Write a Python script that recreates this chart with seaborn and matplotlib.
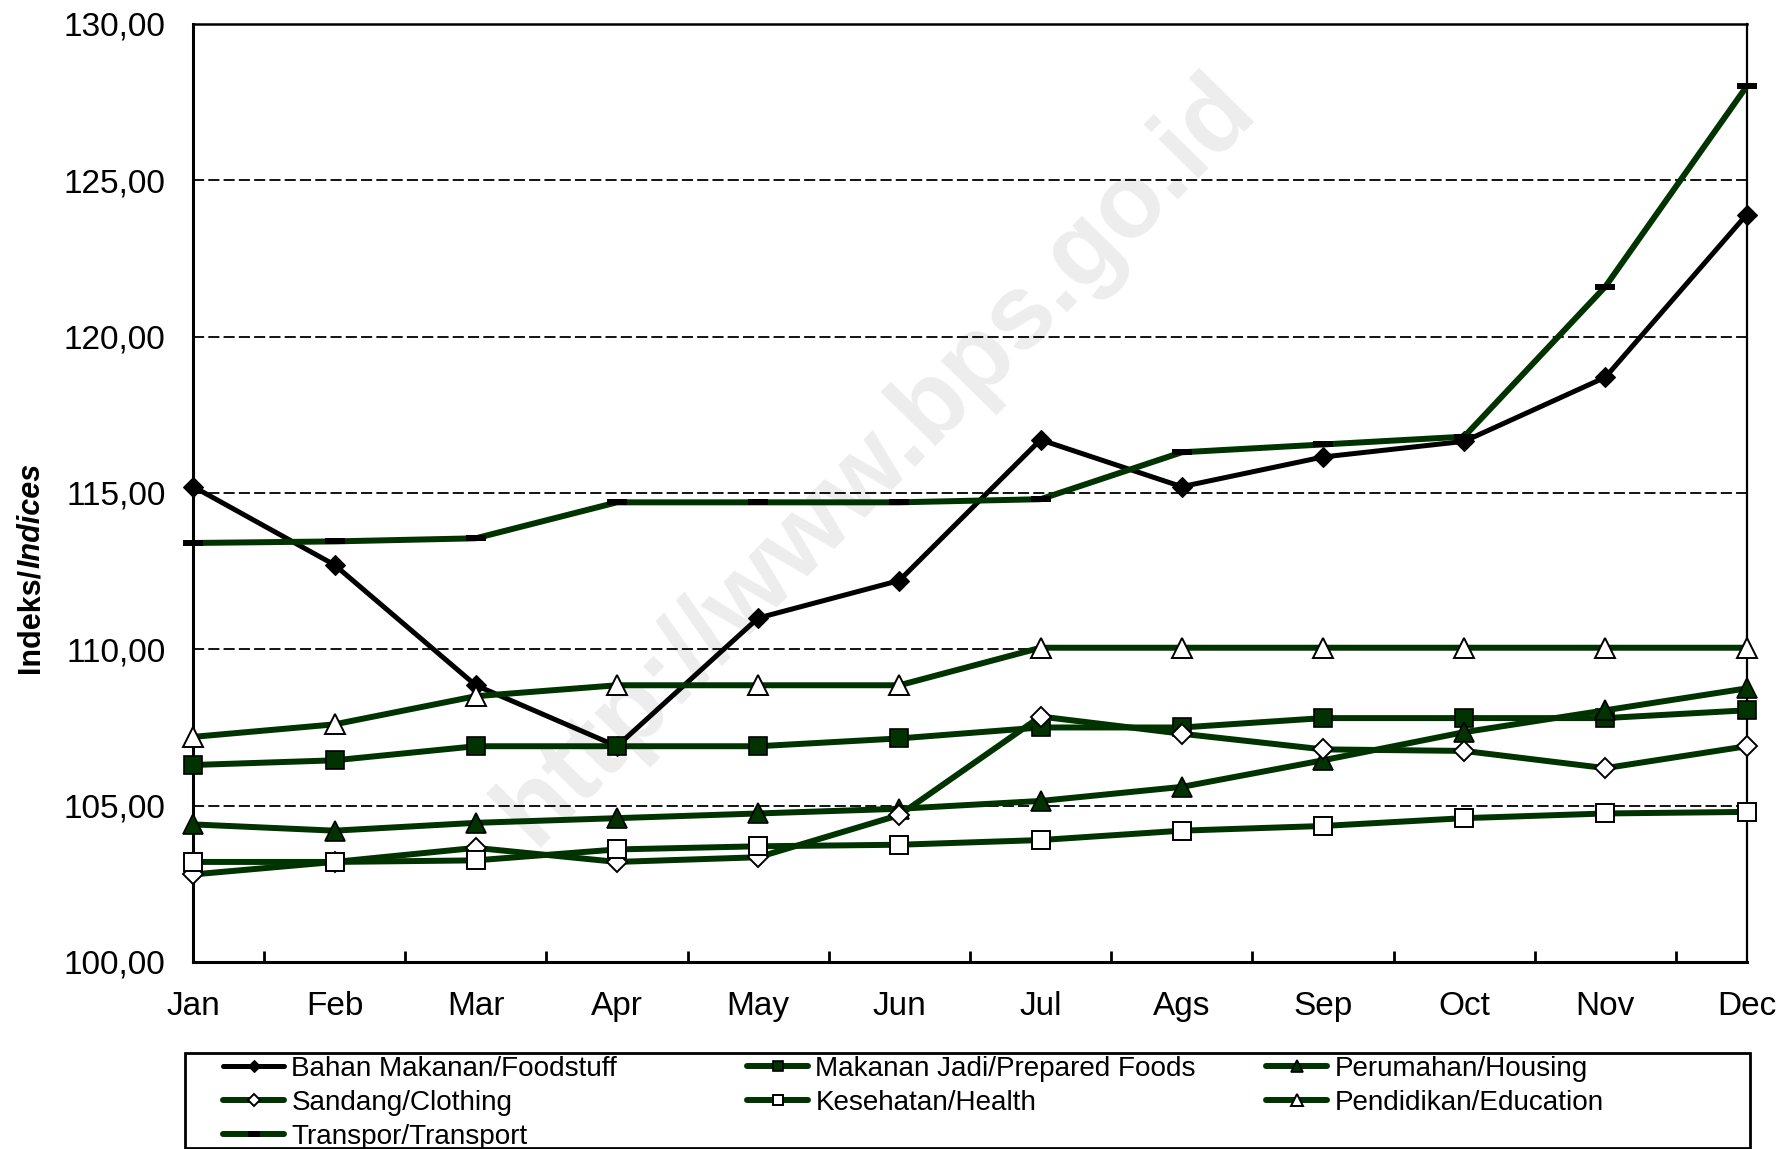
import numpy as np
import pandas as pd
import matplotlib
matplotlib.use("Agg")
import matplotlib.pyplot as plt
import seaborn as sns
from matplotlib.patches import Rectangle
from matplotlib.ticker import FixedLocator, NullFormatter

# ---------------- data ----------------
months = ["Jan", "Feb", "Mar", "Apr", "May", "Jun", "Jul", "Ags", "Sep", "Oct", "Nov", "Dec"]
foodstuff = [115.2, 112.7, 108.85, 106.9, 111.0, 112.2, 116.7, 115.2, 116.15, 116.65, 118.7, 123.9]
prepared = [106.3, 106.45, 106.9, 106.9, 106.9, 107.15, 107.5, 107.5, 107.8, 107.8, 107.8, 108.05]
housing = [104.4, 104.2, 104.45, 104.6, 104.75, 104.9, 105.15, 105.6, 106.45, 107.35, 108.05, 108.75]
clothing = [102.8, 103.2, 103.65, 103.2, 103.35, 104.7, 107.85, 107.3, 106.8, 106.75, 106.2, 106.9]
health = [103.2, 103.2, 103.25, 103.6, 103.7, 103.75, 103.9, 104.2, 104.35, 104.6, 104.75, 104.8]
education = [107.2, 107.6, 108.5, 108.85, 108.85, 108.85, 110.05, 110.05, 110.05, 110.05, 110.05, 110.05]
transport = [113.4, 113.45, 113.55, 114.7, 114.7, 114.7, 114.8, 116.3, 116.55, 116.8, 121.6, 128.0]

series_names = ["Bahan Makanan/Foodstuff", "Makanan Jadi/Prepared Foods", "Perumahan/Housing",
                "Sandang/Clothing", "Kesehatan/Health", "Pendidikan/Education", "Transpor/Transport"]
series_values = [foodstuff, prepared, housing, clothing, health, education, transport]

yticks = [100, 105, 110, 115, 120, 125, 130]
ytick_labels = ["100,00", "105,00", "110,00", "115,00", "120,00", "125,00", "130,00"]
ylabel_a = "Indeks/"
ylabel_b = "Indices"
watermark = "http://www.bps.go.id"

# ---------------- styles ----------------
GREEN = "#003300"
styles = [
    dict(color="black", linewidth=3.6, marker="D", markersize=10, markerfacecolor="black",
         markeredgecolor="black", markeredgewidth=0.8),
    dict(color=GREEN, linewidth=4.3, marker="s", markersize=13, markerfacecolor=GREEN,
         markeredgecolor="black", markeredgewidth=1.2),
    dict(color=GREEN, linewidth=4.3, marker="^", markersize=14, markerfacecolor=GREEN,
         markeredgecolor="black", markeredgewidth=1.2),
    dict(color=GREEN, linewidth=4.3, marker="D", markersize=10, markerfacecolor="white",
         markeredgecolor="black", markeredgewidth=1.4),
    dict(color=GREEN, linewidth=4.3, marker="s", markersize=13, markerfacecolor="white",
         markeredgecolor="black", markeredgewidth=1.4),
    dict(color=GREEN, linewidth=4.3, marker="^", markersize=14, markerfacecolor="white",
         markeredgecolor="black", markeredgewidth=1.4),
    dict(color=GREEN, linewidth=4.3, marker="_", markersize=14.5, markerfacecolor="black",
         markeredgecolor="black", markeredgewidth=4.3),
]

sns.set_theme(style="white")
plt.rcParams["font.family"] = ["Liberation Sans", "DejaVu Sans"]
plt.rcParams["lines.scale_dashes"] = False
plt.rcParams["text.color"] = "black"

W, H = 1783, 1149
fig = plt.figure(figsize=(W / 100, H / 100), dpi=100)
fig.patch.set_facecolor("white")
ax = fig.add_axes([193.3 / W, 1 - 962 / H, (1746.6 - 193.3) / W, (962 - 23.9) / H])
ax.set_facecolor("white")

# watermark
ax.text(0.4395, 0.535, watermark, transform=ax.transAxes, rotation=45.5,
        rotation_mode="anchor", ha="center", va="center", fontsize=76,
        fontweight="bold", color="#ededed", zorder=0.5)

x = list(range(len(months)))
handles = []
for name, vals, st in zip(series_names, series_values, styles):
    sns.lineplot(x=x, y=vals, ax=ax, legend=False, clip_on=False, zorder=3, **st)
    line = ax.lines[-1]
    line.set_label(name)
    handles.append(line)

ax.set_xlim(0, len(months) - 1)
ax.set_ylim(yticks[0], yticks[-1])
ax.set_xticks(x)
ax.set_xticklabels(months, fontsize=24)
ax.xaxis.set_minor_locator(FixedLocator([i + 0.5 for i in x[:-1]]))
ax.xaxis.set_minor_formatter(NullFormatter())
ax.tick_params(axis="x", which="major", length=0, pad=21, colors="black")
ax.tick_params(axis="x", which="minor", direction="in", length=8, width=2, color="black", bottom=True)
ax.set_yticks(yticks)
ax.set_yticklabels(ytick_labels, fontsize=24)
ax.tick_params(axis="y", length=0, pad=20, colors="black")
ax.set_xlabel("")
ax.set_ylabel("")

for yv in yticks[1:]:
    ax.axhline(yv, color="black", lw=1.3, dashes=(8, 3), zorder=1)

for side, lw in [("left", 2.2), ("bottom", 2.2), ("right", 1.6), ("top", 1.8)]:
    ax.spines[side].set_visible(True)
    ax.spines[side].set_color("black")
    ax.spines[side].set_linewidth(lw)

# y label (bold + bold italic)
t1 = fig.text(31 / W, 1 - 673 / H, ylabel_a, rotation=90, ha="center", va="bottom",
              fontsize=22, fontweight="bold", color="black")
fig.canvas.draw()
bb = t1.get_window_extent(fig.canvas.get_renderer())
fig.text(31 / W, bb.y1 / H, ylabel_b, rotation=90, ha="center", va="bottom",
         fontsize=22, fontweight="bold", fontstyle="italic", color="black")

# legend frame + three columns
fig.add_artist(Rectangle((185 / W, 1 - 1148 / H), (1750 - 185) / W, (1148 - 1053) / H,
                         transform=fig.transFigure, fill=False, ec="black", lw=2.0))
columns = [[0, 3, 6], [1, 4], [2, 5]]
col_x = [223, 747, 1266]
for cols, cx in zip(columns, col_x):
    fig.legend([handles[i] for i in cols], [series_names[i] for i in cols],
               loc="upper left", bbox_to_anchor=(cx / W, 1 - 1056 / H),
               frameon=False, fontsize=20.1, handlelength=2.2, handletextpad=0.25,
               borderpad=0, borderaxespad=0, labelspacing=0.29, markerscale=0.6,
               labelcolor="black")

fig.savefig("out.png", dpi=100)
